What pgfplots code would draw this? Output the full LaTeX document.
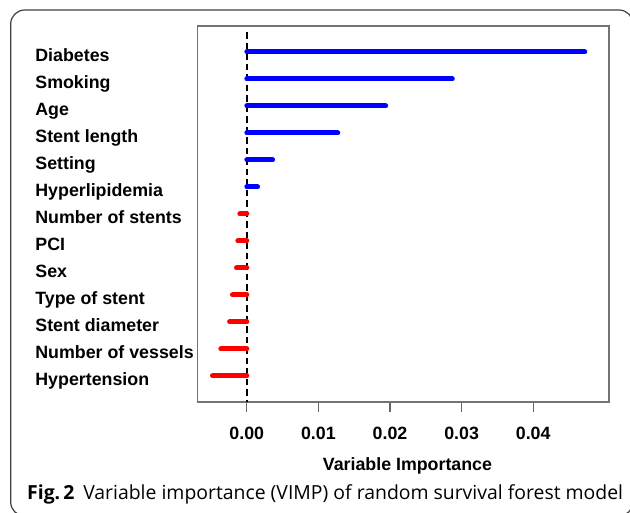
\documentclass[border=0pt]{standalone}
\usepackage{pgfplots}
\pgfplotsset{compat=1.18}
\usepackage{fontspec}
\setmainfont{Liberation Sans}
\newfontfamily\capfont{Open Sans}
\begin{document}
\begin{tikzpicture}[x=1pt,y=1pt]
\useasboundingbox (0pt,0pt) rectangle (630pt,513pt);
\begin{scope}
\clip (0pt,0pt) rectangle (630pt,513pt);
\draw[line width=1.2pt, color=black!75, rounded corners=14pt] (10.7pt,-3pt) rectangle (633pt,503pt);
\end{scope}
\begin{axis}[
 at={(197.7pt,111pt)}, anchor=south west,
 scale only axis, width=411.3pt, height=376pt,
 xmin=-0.00686, xmax=0.05059,
 ymin=0.037, ymax=13.963, y dir=reverse,
 axis line style={draw=black!55, line width=1.2pt},
 xtick={0,0.01,0.02,0.03,0.04},
 xtick pos=bottom, tick align=outside,
 major tick length=10pt,
 x tick style={draw=black!60, line width=1.2pt},
 /pgf/number format/assume math mode=true,
 xticklabel style={yshift=-12pt, font=\fontsize{17.8}{20}\selectfont\bfseries, /pgf/number format/fixed, /pgf/number format/fixed zerofill, /pgf/number format/precision=2},
 scaled x ticks=false,
 ytick={1,...,13},
 yticklabels={Diabetes, Smoking, Age, Stent length, Setting, Hyperlipidemia, Number of stents, PCI, Sex, Type of stent, Stent diameter, Number of vessels, Hypertension},
 y tick style={draw=none},
 yticklabel style={anchor=base west, inner sep=0pt, xshift=-152.5pt, yshift=-10pt, font=\fontsize{17.8}{20}\selectfont\bfseries},
 xlabel={Variable Importance},
 xlabel style={at={(axis description cs:0.51,0)}, anchor=base, inner sep=0pt, yshift=-68.7pt, font=\fontsize{17.8}{20}\selectfont\bfseries},
 clip=false,
]
\addplot[black, line width=1.7pt, dash pattern=on 6.5pt off 4pt] coordinates {(0,0.26) (0,13.963)};
\addplot[blue, line width=5pt, line cap=round] coordinates {(0,1) (0.0472,1)};
\addplot[blue, line width=5pt, line cap=round] coordinates {(0,2) (0.0287,2)};
\addplot[blue, line width=5pt, line cap=round] coordinates {(0,3) (0.0194,3)};
\addplot[blue, line width=5pt, line cap=round] coordinates {(0,4) (0.0127,4)};
\addplot[blue, line width=5pt, line cap=round] coordinates {(0,5) (0.0036,5)};
\addplot[blue, line width=5pt, line cap=round] coordinates {(0,6) (0.0015,6)};
\addplot[red, line width=5pt, line cap=round] coordinates {(0,7) (-0.00098,7)};
\addplot[red, line width=5pt, line cap=round] coordinates {(0,8) (-0.00126,8)};
\addplot[red, line width=5pt, line cap=round] coordinates {(0,9) (-0.00144,9)};
\addplot[red, line width=5pt, line cap=round] coordinates {(0,10) (-0.0020,10)};
\addplot[red, line width=5pt, line cap=round] coordinates {(0,11) (-0.0024,11)};
\addplot[red, line width=5pt, line cap=round] coordinates {(0,12) (-0.00363,12)};
\addplot[red, line width=5pt, line cap=round] coordinates {(0,13) (-0.00479,13)};
\end{axis}
\node[anchor=base west, inner sep=0pt] at (27pt,13pt) {\capfont\fontsize{19.4}{22}\selectfont\textbf{Fig.\,2}\hspace{0.45em}Variable importance (VIMP) of random survival forest model};
\end{tikzpicture}
\end{document}
